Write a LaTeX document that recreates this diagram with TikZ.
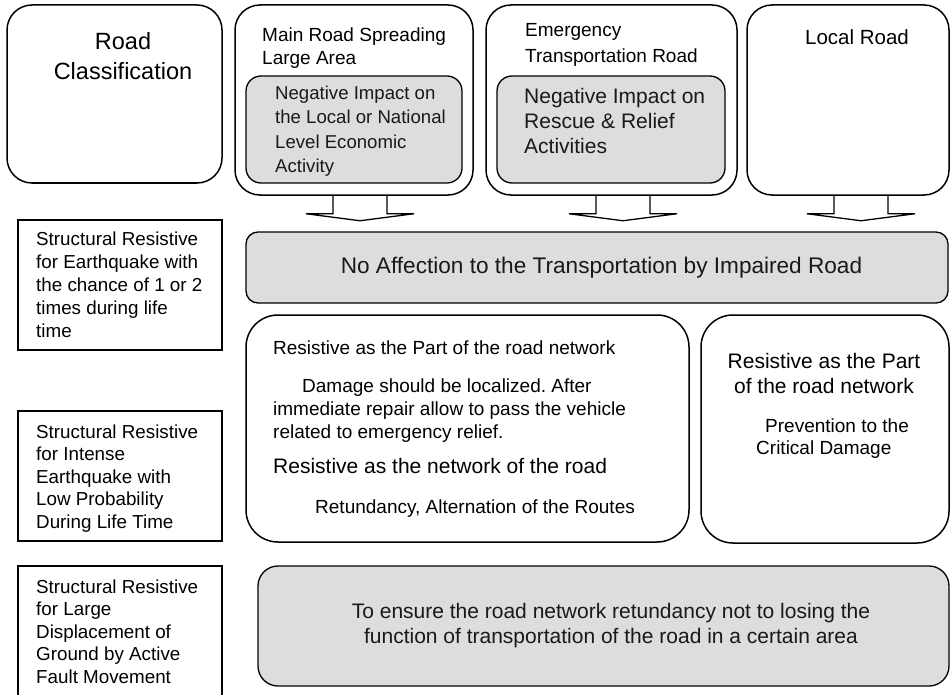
\documentclass[tikz,border=0pt]{standalone}
\usepackage{fontspec}
\setmainfont{Liberation Sans}
\newcommand\fsz[2]{\fontsize{#1}{#2}\selectfont}
\definecolor{boxgray}{RGB}{221,221,221}
\definecolor{txtdark}{RGB}{25,25,25}
\frenchspacing
\begin{document}
\begin{tikzpicture}[x=1pt,y=-1pt,
  rbox/.style={draw=black, line width=1.5pt, rounded corners=#1, inner sep=0, fill=white},
  gbox/.style={draw=black, line width=1.3pt, rounded corners=#1, inner sep=0, fill=boxgray},
  sbox/.style={draw=black, line width=1.3pt, inner sep=0, minimum width=204, fill=white},
  lbl/.style={inner sep=0, anchor=base west, align=left, text=black},
  clbl/.style={inner sep=0, anchor=base, align=center, text=black},
  arr/.style={draw=black, line width=1.3pt, line join=miter}]
\useasboundingbox (0,0) rectangle (952,695);
\fill[white] (0,0) rectangle (952,695);

% top row
\node[rbox=25, minimum width=215, minimum height=178] (rc) at (114.5,94) {};
\node[rbox=25, minimum width=238, minimum height=190] (main) at (354,100) {};
\node[gbox=15, minimum width=216, minimum height=107] (mainin) at (354,129.5) {};
\node[rbox=25, minimum width=251, minimum height=190] (emer) at (611.5,100) {};
\node[gbox=15, minimum width=228, minimum height=107] (emerin) at (611,129.5) {};
\node[rbox=25, minimum width=202, minimum height=190] (local) at (848,100) {};

% arrows
\draw[arr] ([xshift=-21pt]main.south) -- ++(0,18) -- ++(-27,0) -- ++(54,7) -- ++(54,-7) -- ++(-27,0) -- ++(0,-18);
\draw[arr] ([xshift=-15.5pt]emer.south) -- ++(0,18) -- ++(-27,0) -- ++(54,7) -- ++(54,-7) -- ++(-27,0) -- ++(0,-18);
\draw[arr] ([xshift=-14pt]local.south) -- ++(0,18) -- ++(-27,0) -- ++(54,7) -- ++(54,-7) -- ++(-27,0) -- ++(0,-18);

% right side boxes
\node[gbox=12, minimum width=702, minimum height=71] (noaff) at (597,267.5) {};
\node[rbox=32, minimum width=443, minimum height=227] (mid) at (467.5,428.5) {};
\node[rbox=32, minimum width=248, minimum height=228] (rgt) at (825,429) {};
\node[gbox=20, minimum width=691, minimum height=120] (bot) at (603.5,626) {};

% left label boxes
\node[sbox, minimum height=130] (l1) at (120,285) {};
\node[sbox, minimum height=130] (l2) at (120,476) {};
\node[sbox, minimum height=150] (l3) at (120,641) {};

% texts (multi-line nodes: base = last line baseline)
\node[clbl, font=\fsz{23.5}{30}] (trc) at (123,80) {Road\\Classification};
\node[lbl, font=\fsz{19}{23}] (tmain) at (262,65) {Main Road Spreading\\Large Area};
\node[lbl, font=\fsz{18.6}{24}, text=txtdark] (tmainin) at (275,172) {Negative Impact on\\the Local or National\\Level Economic\\Activity};
\node[lbl, font=\fsz{19}{26}] (temer) at (525,63) {Emergency\\Transportation Road};
\node[lbl, font=\fsz{21}{25.5}, text=txtdark] (temerin) at (524,154) {Negative Impact on\\Rescue \& Relief\\Activities};
\node[clbl, font=\fsz{20.5}{24}] (tlocal) at (857,45) {Local Road};

\node[clbl, font=\fsz{22.6}{27}, text=txtdark] (tnoaff) at (601.5,273) {No Affection to the Transportation by Impaired Road};

\node[lbl, font=\fsz{19}{23}] (tmid1) at (273,354) {Resistive as the Part of the road network};
\node[lbl, font=\fsz{19}{23}] (tmid2) at (273,438) {\hspace*{29pt}Damage should be localized. After\\immediate repair allow to pass the vehicle\\related to emergency relief.};
\node[lbl, font=\fsz{21}{25}] (tmid3) at (273,473) {Resistive as the network of the road};
\node[lbl, font=\fsz{19}{23}] (tmid4) at (315,513) {Retundancy, Alternation of the Routes};

\node[clbl, font=\fsz{21}{25}] (trgt1) at (824,393) {Resistive as the Part\\of the road network};
\node[lbl, font=\fsz{19}{22}] (trgt2) at (756,454) {\hspace*{9pt}Prevention to the\\Critical Damage};

\node[lbl, font=\fsz{18.8}{23}] (tl1) at (36,337) {Structural Resistive\\for Earthquake with\\the chance of 1 or 2\\times during life\\time};
\node[lbl, font=\fsz{18.8}{22.5}] (tl2) at (36,528) {Structural Resistive\\for Intense\\Earthquake with\\Low Probability\\During Life Time};
\node[lbl, font=\fsz{18.8}{22.5}] (tl3) at (36,683) {Structural Resistive\\for Large\\Displacement of\\Ground by Active\\Fault Movement};

\node[clbl, font=\fsz{21}{25}, text=txtdark] (tbot) at (611,643) {To ensure the road network retundancy not to losing the\\function of transportation of the road in a certain area};
\end{tikzpicture}
\end{document}
